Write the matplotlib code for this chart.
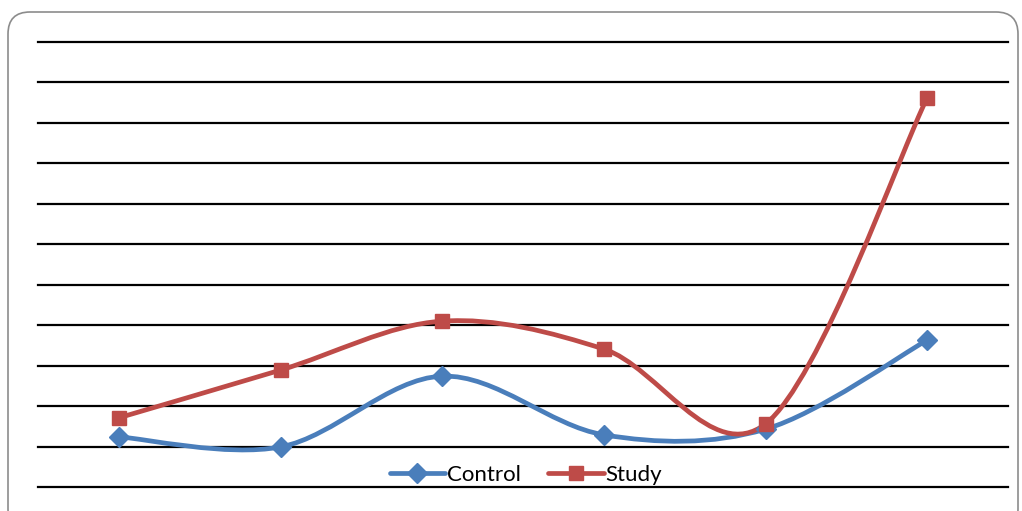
import matplotlib
matplotlib.use("Agg")
import matplotlib.pyplot as plt
import numpy as np
from matplotlib.patches import FancyBboxPatch, PathPatch
from matplotlib.path import Path
from matplotlib.lines import Line2D

# values (gridline units, no axis labels shown)
categories = [1, 2, 3, 4, 5, 6]
control = [1.24, 0.99, 2.74, 1.29, 1.43, 3.63]
study = [1.71, 2.89, 4.10, 3.41, 1.56, 9.62]

BLUE = "#4A7EBB"
RED = "#BE4B48"


def smooth_path(xs, ys):
    """Excel-like smoothed line: cubic Bezier through each point."""
    pts = np.column_stack([xs, ys]).astype(float)
    ext = np.vstack([pts[0], pts, pts[-1]])
    verts = [pts[0]]
    codes = [Path.MOVETO]
    for i in range(len(pts) - 1):
        p0, p1, p2, p3 = ext[i], ext[i + 1], ext[i + 2], ext[i + 3]
        c1 = p1 + (p2 - p0) / 6
        c2 = p2 - (p3 - p1) / 6
        verts += [c1, c2, p2]
        codes += [Path.CURVE4] * 3
    return Path(verts, codes)


fig = plt.figure(figsize=(10.22, 5.11), dpi=100)
ax = fig.add_axes([38 / 1022, 24 / 511, 970 / 1022, 445 / 511])

x = np.arange(len(categories))
for k in range(12):
    ax.axhline(k, color="black", lw=1.6, zorder=1, clip_on=False)

for ys, col, mk, ms in [(control, BLUE, "D", 10), (study, RED, "s", 10)]:
    ax.add_patch(PathPatch(smooth_path(x, ys), fill=False, edgecolor=col,
                           lw=3.4, capstyle="round", zorder=2))
    ax.plot(x, ys, ls="none", marker=mk, ms=ms, color=col, zorder=3)

ax.set_xlim(-0.5, len(categories) - 0.5)
ax.set_ylim(0, 11)
ax.axis("off")

handles = [
    Line2D([], [], color=BLUE, lw=3.4, marker="D", ms=10, solid_capstyle="round"),
    Line2D([], [], color=RED, lw=3.4, marker="s", ms=10, solid_capstyle="round"),
]
fig.legend(handles, ["Control", "Study"], loc="center",
           bbox_to_anchor=(526 / 1022, 1 - 475 / 511), ncol=2, frameon=False,
           prop={"family": "Lato", "size": 16}, handlelength=2.5,
           handletextpad=0.1, columnspacing=1.2, borderpad=0)

border = FancyBboxPatch((0.08, -0.2), 10.1, 5.19,
                        boxstyle="round,pad=0,rounding_size=0.22",
                        transform=fig.dpi_scale_trans, fill=False,
                        edgecolor="#8c8c8c", lw=1.2, clip_on=False)
fig.patches.append(border)

fig.savefig("out.png", dpi=100)
